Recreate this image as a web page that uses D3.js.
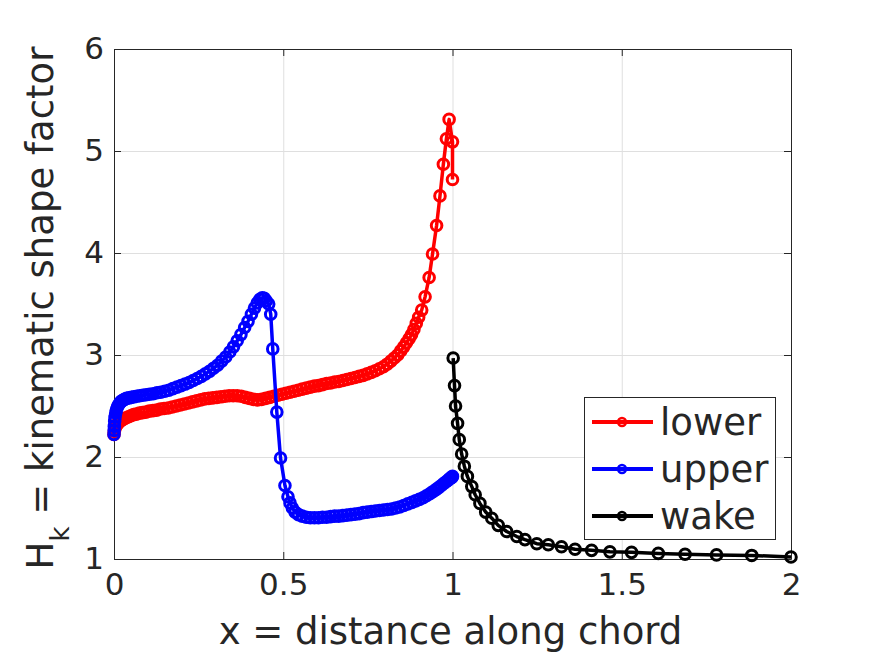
<!DOCTYPE html>
<html><head><meta charset="utf-8">
<script src="https://cdn.jsdelivr.net/npm/d3@7"></script>
<style>
body{margin:0;background:#fff;}
text{font-family:"DejaVu Sans",sans-serif;fill:#262626;}
</style></head>
<body><svg id="c" width="875" height="656"></svg>
<script>
const xTicks=[0,0.5,1,1.5,2];
const xTickLabels=["0","0.5","1","1.5","2"];
const yTicks=[1,2,3,4,5,6];
const seriesNames=["lower","upper","wake"];
const seriesColors=["#ff0000","#0000ff","#000000"];

const lowerX=[0,0.001,0.002,0.004,0.006,0.009,0.012,0.016,0.020,0.025,0.030,0.036,0.043,0.050,0.058,0.066,0.075,0.084,0.094,0.104,0.115,0.126,0.137,0.148,0.160,0.172,0.184,0.196,0.208,0.220,0.232,0.244,0.256,0.268,0.280,0.292,0.304,0.316,0.328,0.340,0.352,0.364,0.376,0.388,0.400,0.412,0.424,0.436,0.448,0.460,0.472,0.484,0.496,0.508,0.520,0.532,0.544,0.556,0.568,0.580,0.592,0.604,0.616,0.628,0.640,0.652,0.664,0.676,0.688,0.700,0.712,0.724,0.736,0.748,0.760,0.772,0.784,0.796,0.807,0.818,0.828,0.838,0.847,0.856,0.864,0.872,0.879,0.886,0.893,0.900,0.909,0.919,0.931,0.941,0.953,0.963,0.973,0.982,0.990,1.0,1.0];
const lowerY=[2.22,2.25,2.27,2.29,2.31,2.32,2.33,2.345,2.355,2.365,2.375,2.385,2.395,2.405,2.415,2.42,2.43,2.435,2.44,2.45,2.455,2.46,2.47,2.475,2.48,2.49,2.50,2.51,2.52,2.53,2.54,2.55,2.56,2.57,2.575,2.58,2.585,2.59,2.595,2.60,2.60,2.60,2.595,2.585,2.575,2.565,2.56,2.565,2.575,2.585,2.595,2.605,2.615,2.625,2.635,2.645,2.655,2.665,2.675,2.685,2.695,2.70,2.71,2.72,2.725,2.735,2.74,2.75,2.76,2.77,2.78,2.79,2.80,2.815,2.83,2.845,2.865,2.885,2.91,2.94,2.97,3.0,3.04,3.08,3.12,3.16,3.20,3.25,3.31,3.37,3.44,3.57,3.76,3.99,4.27,4.56,4.87,5.12,5.31,5.09,4.72];

const upperX=[0,0.0005,0.001,0.002,0.003,0.005,0.007,0.010,0.013,0.017,0.021,0.026,0.031,0.037,0.044,0.051,0.059,0.067,0.076,0.085,0.095,0.105,0.116,0.127,0.138,0.150,0.162,0.174,0.186,0.198,0.210,0.222,0.234,0.246,0.258,0.270,0.282,0.294,0.306,0.318,0.330,0.342,0.353,0.364,0.375,0.386,0.396,0.406,0.415,0.423,0.431,0.438,0.444,0.450,0.457,0.463,0.469,0.481,0.492,0.505,0.514,0.520,0.527,0.535,0.545,0.556,0.568,0.580,0.592,0.604,0.616,0.628,0.640,0.652,0.664,0.676,0.688,0.700,0.712,0.724,0.736,0.748,0.760,0.772,0.784,0.796,0.808,0.820,0.832,0.844,0.856,0.868,0.880,0.891,0.902,0.913,0.923,0.933,0.942,0.951,0.959,0.967,0.974,0.980,0.986,0.991,0.995,0.998,1.0];
const upperY=[2.22,2.26,2.30,2.35,2.39,2.43,2.46,2.49,2.51,2.53,2.545,2.555,2.565,2.575,2.58,2.585,2.59,2.595,2.60,2.605,2.61,2.615,2.62,2.63,2.635,2.645,2.655,2.67,2.685,2.70,2.715,2.73,2.75,2.77,2.79,2.815,2.84,2.87,2.90,2.94,2.98,3.03,3.08,3.14,3.20,3.27,3.33,3.40,3.46,3.51,3.545,3.56,3.555,3.53,3.50,3.40,3.06,2.44,1.99,1.72,1.61,1.55,1.50,1.46,1.435,1.42,1.41,1.405,1.405,1.405,1.41,1.41,1.415,1.42,1.42,1.425,1.43,1.435,1.44,1.445,1.455,1.46,1.465,1.47,1.475,1.48,1.485,1.49,1.50,1.51,1.525,1.54,1.555,1.57,1.585,1.60,1.62,1.64,1.66,1.68,1.70,1.72,1.74,1.755,1.77,1.785,1.795,1.80,1.81];

const wakeX=[1.002,1.006,1.009,1.015,1.020,1.027,1.035,1.044,1.057,1.067,1.081,1.098,1.116,1.135,1.160,1.190,1.214,1.249,1.283,1.322,1.362,1.411,1.465,1.529,1.608,1.687,1.780,1.884,2.0];
const wakeY=[2.97,2.70,2.50,2.33,2.17,2.03,1.91,1.81,1.71,1.63,1.545,1.46,1.40,1.33,1.27,1.22,1.19,1.15,1.14,1.12,1.095,1.085,1.07,1.065,1.055,1.046,1.04,1.035,1.02];

const W=875,H=656;
const svg=d3.select("#c");
svg.append("rect").attr("width",W).attr("height",H).attr("fill","#fff");
const L=114,R=791,T=49,B=559;
const x=d3.scaleLinear().domain([0,2]).range([L,R]);
const y=d3.scaleLinear().domain([1,6]).range([B,T]);
const axisColor="#262626";

// grid
const gx=svg.append("g").attr("transform",`translate(0,${B})`)
  .call(d3.axisBottom(x).tickValues(xTicks).tickSize(-(B-T)).tickFormat(""));
const gy=svg.append("g").attr("transform",`translate(${L},0)`)
  .call(d3.axisLeft(y).tickValues(yTicks).tickSize(-(R-L)).tickFormat(""));
[gx,gy].forEach(g=>{g.select(".domain").remove();g.selectAll("line").attr("stroke","#dfdfdf").attr("stroke-width",1);});

// axes
function styleAxis(g){g.select(".domain").attr("stroke",axisColor).attr("stroke-width",1);
  g.selectAll(".tick line").attr("stroke",axisColor);
  g.selectAll("text").attr("font-family","DejaVu Sans").attr("font-size",31).attr("fill",axisColor);}
const ab=svg.append("g").attr("transform",`translate(0,${B})`)
  .call(d3.axisBottom(x).tickValues(xTicks).tickSizeInner(-7).tickSizeOuter(0).tickPadding(14).tickFormat((d,i)=>xTickLabels[i]));
styleAxis(ab);
const at=svg.append("g").attr("transform",`translate(0,${T})`)
  .call(d3.axisTop(x).tickValues(xTicks).tickSizeInner(-7).tickSizeOuter(0).tickFormat(""));
styleAxis(at);
const al=svg.append("g").attr("transform",`translate(${L},0)`)
  .call(d3.axisLeft(y).tickValues(yTicks).tickSizeInner(-7).tickSizeOuter(0).tickPadding(10).tickFormat(d3.format("d")));
styleAxis(al);
const ar=svg.append("g").attr("transform",`translate(${R},0)`)
  .call(d3.axisRight(y).tickValues(yTicks).tickSizeInner(-7).tickSizeOuter(0).tickFormat(""));
styleAxis(ar);
ab.selectAll("text").attr("dy","0.71em");

// labels
svg.append("text").attr("x",(L+R)/2-2).attr("y",644).attr("text-anchor","middle")
  .attr("font-size",37).text("x = distance along chord");
const yl=svg.append("text").attr("transform","translate(53,308) rotate(-90)")
  .attr("text-anchor","middle").attr("font-size",37);
yl.append("tspan").text("H");
yl.append("tspan").attr("font-size",26).attr("dy",16).text("k");
yl.append("tspan").attr("dy",-16).text(" = kinematic shape factor");

// data
const series=[[lowerX,lowerY],[upperX,upperY],[wakeX,wakeY]];
const line=d3.line().x(d=>x(d[0])).y(d=>y(d[1]));
series.forEach((s,i)=>{
  const pts=s[0].map((v,j)=>[v,s[1][j]]);
  const g=svg.append("g");
  g.append("path").datum(pts).attr("d",line).attr("fill","none")
    .attr("stroke",seriesColors[i]).attr("stroke-width",3.5).attr("stroke-linejoin","round");
  g.selectAll("circle").data(pts).join("circle")
    .attr("cx",d=>x(d[0])).attr("cy",d=>y(d[1])).attr("r",5.3)
    .attr("fill","none").attr("stroke",seriesColors[i]).attr("stroke-width",3);
});

// legend
const lg=svg.append("g");
lg.append("rect").attr("x",584.5).attr("y",397.5).attr("width",191).attr("height",142)
  .attr("fill","#fff").attr("stroke",axisColor).attr("stroke-width",1);
seriesNames.forEach((n,i)=>{
  const cy=422+i*47;
  lg.append("line").attr("x1",592).attr("x2",653).attr("y1",cy).attr("y2",cy)
    .attr("stroke",seriesColors[i]).attr("stroke-width",4);
  lg.append("circle").attr("cx",622).attr("cy",cy).attr("r",4).attr("fill","none")
    .attr("stroke",seriesColors[i]).attr("stroke-width",2.5);
  lg.append("text").attr("x",660).attr("y",cy+13).attr("font-size",37).attr("fill","#000").text(n);
});
</script></body></html>
